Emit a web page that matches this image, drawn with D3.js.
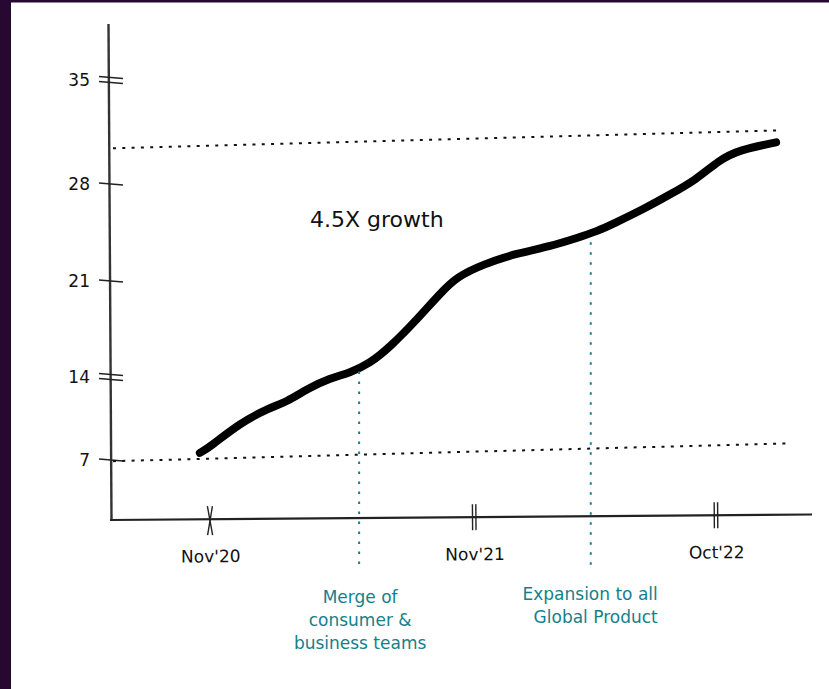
<!DOCTYPE html>
<html><head><meta charset="utf-8">
<script src="https://cdn.jsdelivr.net/npm/d3@7"></script>
<style>
html,body{margin:0;padding:0;background:#fff;}
svg{display:block;}
</style></head><body>
<svg id="chart" width="829" height="689"></svg>
<script>
// ---------- data ----------
const yTickValues = [7, 14, 21, 28, 35];
const xTickDates = ["2020-11-01", "2021-11-01", "2022-10-01"];
const xTickLabels = ["Nov'20", "Nov'21", "Oct'22"];
const seriesDates = ["2020-10-18","2020-11-01","2020-12-12","2021-01-22","2021-02-15","2021-03-15",
  "2021-04-16","2021-05-13","2021-06-10","2021-07-08","2021-08-14","2021-09-15","2021-10-08",
  "2021-11-13","2021-12-30","2022-02-14","2022-03-23","2022-04-20","2022-05-11","2022-06-27",
  "2022-07-28","2022-09-04","2022-10-05","2022-11-02","2022-12-23"];
const seriesValues = [7.6,8.1,10.1,11.4,11.9,13.0,13.9,14.3,15.0,16.2,18.2,20.1,21.3,
  22.2,23.0,23.5,24.1,24.6,25.1,26.3,27.2,28.3,29.6,30.3,30.8];
const refLineStartValues = [6.9, 30.4];
const refLineEndValues = [8.4, 31.6];
const refLineEndDates = ["2023-01-07", "2022-12-23"];
const annotationDates = ["2021-05-26", "2022-04-11"];
const annotationLabels = [["Merge of", "consumer &", "business teams"], ["Expansion to all", "Global Product"]];
const growthLabel = "4.5X growth";

// ---------- layout ----------
const parse = d3.timeParse("%Y-%m-%d");
const svg = d3.select("#chart");
const font = "'DejaVu Sans', sans-serif";
const teal = "#15808b";
const ink = "#111";
const axisX = 110, axisTop = 24, axisBottom = 520, axisRight = 812;

const x = d3.scaleTime()
  .domain([parse(xTickDates[0]), parse(xTickDates[xTickDates.length - 1])])
  .range([210, 716]);
const y = d3.scaleLinear()
  .domain(yTickValues)
  .range([460, 377, 281, 184, 80]);

// frame
svg.append("rect").attr("x", 0).attr("y", 0).attr("width", 829).attr("height", 689).attr("fill", "#fff");
svg.append("rect").attr("x", 0).attr("y", 0).attr("width", 11).attr("height", 689).attr("fill", "#260830");
svg.append("rect").attr("x", 0).attr("y", 0).attr("width", 829).attr("height", 2.5).attr("fill", "#260830");

// y axis
svg.append("path").attr("d", `M${axisX - 1.5},${axisTop} L${axisX + 1.5},${axisBottom}`)
  .attr("stroke", "#333").attr("stroke-width", 2.4).attr("fill", "none");
const yAxis = d3.axisLeft(y).tickValues(yTickValues).tickSize(0).tickPadding(20);
const gy = svg.append("g").attr("transform", `translate(${axisX},0)`).call(yAxis);
gy.select(".domain").remove();
gy.selectAll("text").attr("font-family", font).attr("font-size", 17).attr("fill", ink);
const doubleTicks = new Set([35, 14]);
yTickValues.forEach(v => {
  const yy = y(v);
  const offs = doubleTicks.has(v) ? [-2.5, 2.5] : [0];
  offs.forEach(o => {
    svg.append("line").attr("x1", axisX - 11).attr("x2", axisX + 13)
      .attr("y1", yy + o - 1).attr("y2", yy + o + 1)
      .attr("stroke", "#222").attr("stroke-width", 1.4);
  });
});

// x axis (slightly tilted like the hand-drawn original)
const gxWrap = svg.append("g").attr("transform", `translate(0,${axisBottom}) rotate(-0.45,${axisX},0)`);
gxWrap.append("line").attr("x1", axisX).attr("x2", axisRight).attr("y1", 0).attr("y2", 0)
  .attr("stroke", "#222").attr("stroke-width", 2.2);
const xAxis = d3.axisBottom(x).tickValues(xTickDates.map(parse))
  .tickFormat((d, i) => xTickLabels[i]).tickSize(0).tickPadding(31);
const gx = gxWrap.append("g").call(xAxis);
gx.select(".domain").remove();
gx.selectAll("text").attr("font-family", font).attr("font-size", 17).attr("fill", ink);
xTickDates.forEach((ds, i) => {
  const xx = x(parse(ds));
  if (i === 0) {
    gxWrap.append("line").attr("x1", xx - 2.5).attr("x2", xx + 2.5).attr("y1", -13).attr("y2", 16)
      .attr("stroke", "#222").attr("stroke-width", 1.4);
    gxWrap.append("line").attr("x1", xx + 2.5).attr("x2", xx - 2.5).attr("y1", -13).attr("y2", 16)
      .attr("stroke", "#222").attr("stroke-width", 1.4);
  } else {
    [-1.7, 1.7].forEach(o => {
      gxWrap.append("line").attr("x1", xx + o).attr("x2", xx + o).attr("y1", -13).attr("y2", 13)
        .attr("stroke", "#222").attr("stroke-width", 1.4);
    });
  }
});

// reference dotted lines
refLineStartValues.forEach((sv, i) => {
  svg.append("line")
    .attr("x1", axisX + 3).attr("y1", y(sv))
    .attr("x2", x(parse(refLineEndDates[i]))).attr("y2", y(refLineEndValues[i]))
    .attr("stroke", "#111").attr("stroke-width", 2)
    .attr("stroke-dasharray", "3,6.3");
});

// series
const data = seriesDates.map((d, i) => ({ date: parse(d), value: seriesValues[i] }));
const line = d3.line().x(d => x(d.date)).y(d => y(d.value)).curve(d3.curveBasis);
svg.append("path").datum(data).attr("d", line)
  .attr("fill", "none").attr("stroke", "#000").attr("stroke-width", 8)
  .attr("stroke-linecap", "round").attr("stroke-linejoin", "round");

// annotations
const bis = d3.bisector(d => d.date).left;
function valueAt(date) {
  const i = bis(data, date);
  const a = data[i - 1], b = data[i];
  const t = (date - a.date) / (b.date - a.date);
  return a.value + t * (b.value - a.value);
}
annotationDates.forEach((ds, i) => {
  const dt = parse(ds);
  const xx = x(dt);
  const top = y(valueAt(dt)) + (i === 0 ? 3 : 9);
  svg.append("line").attr("x1", xx).attr("x2", xx).attr("y1", top).attr("y2", 571)
    .attr("stroke", teal).attr("stroke-width", 2).attr("stroke-dasharray", "2.5,7.5");
  const lines = annotationLabels[i];
  const t = svg.append("text").attr("font-family", font).attr("font-size", 17).attr("fill", teal);
  if (i === 0) {
    t.attr("text-anchor", "middle");
    lines.forEach((s, k) => t.append("tspan").attr("x", xx + 1).attr("y", 603 + k * 23).text(s));
  } else {
    t.attr("text-anchor", "end");
    lines.forEach((s, k) => t.append("tspan").attr("x", xx + 67).attr("y", 600 + k * 23).text(s));
  }
});

// growth label
svg.append("text").attr("x", 310).attr("y", 227)
  .attr("font-family", font).attr("font-size", 22).attr("fill", ink).text(growthLabel);
</script>
</body></html>
